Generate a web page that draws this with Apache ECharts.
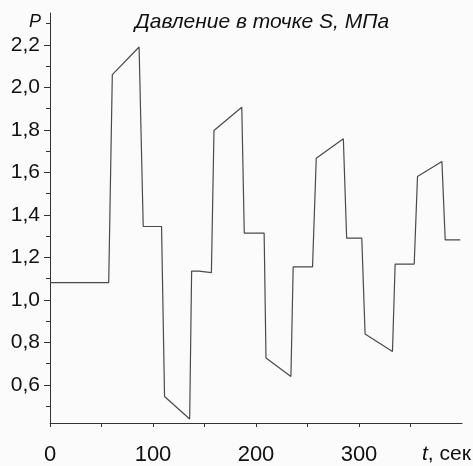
<!DOCTYPE html>
<html>
<head>
<meta charset="utf-8">
<script src="https://cdn.jsdelivr.net/npm/echarts@6/dist/echarts.min.js"></script>
<style>
html,body{margin:0;padding:0;background:#fbfbfb;}
#chart{width:473px;height:466px;}
</style>
</head>
<body>
<div id="chart"></div>
<script>
// Data
const timeSec = [0, 57, 60.5, 86.5, 90.5, 108.3, 111.2, 135.6, 137.5, 144.6, 145.5, 156.7, 159.2, 186.2, 188.6, 207.9, 209.7, 233.9, 236.1, 254.9, 258.5, 284.8, 288, 302.7, 305.9, 332.5, 335.1, 353.6, 356.8, 380.5, 383.7, 398.3];
const pressureMPa = [1.081, 1.081, 2.06, 2.19, 1.345, 1.345, 0.545, 0.439, 1.135, 1.135, 1.128, 1.128, 1.797, 1.906, 1.314, 1.314, 0.726, 0.639, 1.155, 1.155, 1.666, 1.758, 1.29, 1.29, 0.839, 0.757, 1.168, 1.168, 1.58, 1.651, 1.282, 1.282];

const yLabelValues = [0.6, 0.8, 1.0, 1.2, 1.4, 1.6, 1.8, 2.0, 2.2];
const yMinorValues = [0.5, 0.7, 0.9, 1.1, 1.3, 1.5, 1.7, 1.9, 2.1, 2.3];
const xLabelValues = [0, 100, 200, 300];
const xTickValues = [0, 50, 100, 150, 200, 250, 300, 350];

const titleText = 'Давление в точке S, МПа';
const yName = 'P';
const xNameItalic = 't';
const xNameRest = ', сек';

const FONT = '"Liberation Sans", Arial, Helvetica, sans-serif';
const seriesData = timeSec.map((t, i) => [t, pressureMPa[i]]);

const chart = echarts.init(document.getElementById('chart'));
chart.setOption({
  backgroundColor: '#fbfbfb',
  animation: false,
  textStyle: { fontFamily: FONT },
  title: [
    { text: titleText, left: 130, top: 7,
      textStyle: { fontFamily: FONT, fontStyle: 'italic', fontWeight: 'normal', fontSize: 21, color: '#111' } },
    { text: yName, left: 24, top: 8,
      textStyle: { fontFamily: FONT, fontStyle: 'italic', fontWeight: 'normal', fontSize: 18, color: '#111' } },
    { text: '{i|' + xNameItalic + '}{n|' + xNameRest + '}', left: 422, top: 444, padding: 0,
      textStyle: { fontWeight: 'normal', rich: {
        i: { fontFamily: FONT, fontStyle: 'italic', fontWeight: 'normal', fontSize: 21, color: '#111' },
        n: { fontFamily: FONT, fontWeight: 'normal', fontSize: 21, color: '#111' } } } }
  ],
  grid: { left: 50, right: 11, top: 13, bottom: 43, containLabel: false },
  xAxis: {
    type: 'value', min: 0, max: 400,
    axisLine: { show: true, lineStyle: { color: '#333', width: 1 } },
    axisTick: { show: true, customValues: xTickValues, length: 4, lineStyle: { color: '#333' } },
    axisLabel: { customValues: xLabelValues, fontSize: 22, margin: 21, color: '#111', fontFamily: FONT },
    splitLine: { show: false }
  },
  yAxis: [
    {
      type: 'value', min: 0.42, max: 2.35, position: 'left',
      axisLine: { show: true, lineStyle: { color: '#333', width: 1 } },
      axisTick: { show: true, customValues: yLabelValues, length: 6, lineStyle: { color: '#333' } },
      axisLabel: { customValues: yLabelValues, fontSize: 21, margin: 10, color: '#111', fontFamily: FONT,
        formatter: v => v.toFixed(1).replace('.', ',') },
      splitLine: { show: false }
    },
    {
      type: 'value', min: 0.42, max: 2.35, position: 'left', offset: 0,
      axisLine: { show: false },
      axisTick: { show: true, customValues: yMinorValues, length: 4, lineStyle: { color: '#333' } },
      axisLabel: { show: false },
      splitLine: { show: false }
    }
  ],
  series: [{
    type: 'line',
    data: seriesData,
    showSymbol: false,
    lineStyle: { color: '#4a4a4a', width: 1.2 },
    silent: true
  }]
});
</script>
</body>
</html>
